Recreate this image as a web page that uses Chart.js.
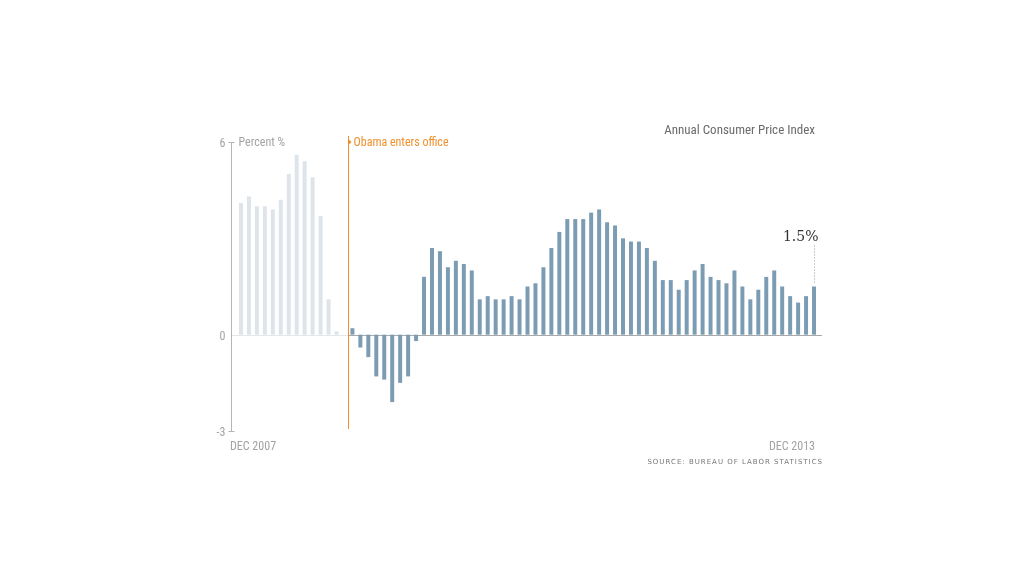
<!DOCTYPE html>
<html>
<head>
<meta charset="utf-8">
<script src="https://cdn.jsdelivr.net/npm/chart.js@4"></script>
<style>
  html, body { margin: 0; padding: 0; background: #fff; }
  canvas { display: block; }
</style>
</head>
<body>
<canvas id="cpi" width="1024" height="576"></canvas>
<script>
// ── Data ───────────────────────────────────────────────────────────────────

const months = [
  "Dec 2007",
  "Jan 2008", "Feb 2008", "Mar 2008", "Apr 2008", "May 2008", "Jun 2008",
  "Jul 2008", "Aug 2008", "Sep 2008", "Oct 2008", "Nov 2008", "Dec 2008",
  "Jan 2009", "Feb 2009", "Mar 2009", "Apr 2009", "May 2009", "Jun 2009",
  "Jul 2009", "Aug 2009", "Sep 2009", "Oct 2009", "Nov 2009", "Dec 2009",
  "Jan 2010", "Feb 2010", "Mar 2010", "Apr 2010", "May 2010", "Jun 2010",
  "Jul 2010", "Aug 2010", "Sep 2010", "Oct 2010", "Nov 2010", "Dec 2010",
  "Jan 2011", "Feb 2011", "Mar 2011", "Apr 2011", "May 2011", "Jun 2011",
  "Jul 2011", "Aug 2011", "Sep 2011", "Oct 2011", "Nov 2011", "Dec 2011",
  "Jan 2012", "Feb 2012", "Mar 2012", "Apr 2012", "May 2012", "Jun 2012",
  "Jul 2012", "Aug 2012", "Sep 2012", "Oct 2012", "Nov 2012", "Dec 2012",
  "Jan 2013", "Feb 2013", "Mar 2013", "Apr 2013", "May 2013", "Jun 2013",
  "Jul 2013", "Aug 2013", "Sep 2013", "Oct 2013", "Nov 2013", "Dec 2013",
];

const cpiValues = [
  4.1,
  4.3, 4.0, 4.0, 3.9, 4.2, 5.0, 5.6, 5.4, 4.9, 3.7, 1.1, 0.1,
  0.0, 0.2, -0.4, -0.7, -1.3, -1.4, -2.1, -1.5, -1.3, -0.2, 1.8, 2.7,
  2.6, 2.1, 2.3, 2.2, 2.0, 1.1, 1.2, 1.1, 1.1, 1.2, 1.1, 1.5,
  1.6, 2.1, 2.7, 3.2, 3.6, 3.6, 3.6, 3.8, 3.9, 3.5, 3.4, 3.0,
  2.9, 2.9, 2.7, 2.3, 1.7, 1.7, 1.4, 1.7, 2.0, 2.2, 1.8, 1.7,
  1.6, 2.0, 1.5, 1.1, 1.4, 1.8, 2.0, 1.5, 1.2, 1.0, 1.2, 1.5,
];

const yTicks = [6, 0, -3];
const obamaMonth = "Feb 2009";   // first full month after inauguration
const firstLabel = "DEC 2007";
const lastLabel = "DEC 2013";
const calloutText = "1.5%";

// ── Colours ────────────────────────────────────────────────────────────────

const BEFORE = "#dde4ea";
const AFTER  = "#7b9cb3";
const ORANGE = "#f0902c";
const GREY_TXT = "#a3a3a3";
const NARROW = "'Liberation Sans Narrow', 'Roboto Condensed', Roboto, sans-serif";

const obamaIdx = months.indexOf(obamaMonth);
const barColors = cpiValues.map((_, i) => (i < obamaIdx ? BEFORE : AFTER));

// ── Decorations drawn on top of Chart.js scales ───────────────────────────

const decorations = {
  id: "decorations",
  beforeDatasetsDraw(chart) {
    const { ctx, chartArea } = chart;
    const x = chart.scales.x, y = chart.scales.y;
    const axisX = chartArea.left - 6;
    const splitX = (x.getPixelForValue(obamaIdx - 1) + x.getPixelForValue(obamaIdx)) / 2;
    const zeroY = Math.round(y.getPixelForValue(0)) + 0.5;

    ctx.save();
    // zero line: pale before, grey after
    ctx.lineWidth = 1;
    ctx.strokeStyle = "#e6e6e6";
    ctx.beginPath(); ctx.moveTo(axisX, zeroY); ctx.lineTo(splitX, zeroY); ctx.stroke();
    ctx.strokeStyle = "#a8a8a8";
    ctx.beginPath(); ctx.moveTo(splitX, zeroY); ctx.lineTo(chartArea.right + 4, zeroY); ctx.stroke();

    // y axis line + ticks
    ctx.strokeStyle = "#b5b5b5";
    const ax = Math.round(axisX) + 0.5;
    ctx.beginPath();
    ctx.moveTo(ax, y.getPixelForValue(yTicks[0]));
    ctx.lineTo(ax, y.getPixelForValue(yTicks[yTicks.length - 1]));
    ctx.stroke();
    ctx.font = `12px ${NARROW}`;
    ctx.fillStyle = GREY_TXT;
    ctx.textAlign = "right";
    ctx.textBaseline = "middle";
    yTicks.forEach(t => {
      const ty = Math.round(y.getPixelForValue(t)) + 0.5;
      if (t !== 0) {
        ctx.beginPath(); ctx.moveTo(ax - 3, ty); ctx.lineTo(ax + 3, ty); ctx.stroke();
      }
      ctx.fillText(String(t), ax - 6, ty + 1);
    });
    ctx.textAlign = "left";
    ctx.fillText("Percent %", ax + 7, y.getPixelForValue(yTicks[0]) + 1);
    ctx.restore();
  },
  afterDatasetsDraw(chart) {
    const { ctx, chartArea } = chart;
    const x = chart.scales.x, y = chart.scales.y;
    const splitX = Math.round((x.getPixelForValue(obamaIdx - 1) + x.getPixelForValue(obamaIdx)) / 2) + 0.5;
    const topY = y.getPixelForValue(yTicks[0]);

    ctx.save();
    // Obama marker
    ctx.strokeStyle = ORANGE;
    ctx.lineWidth = 1;
    ctx.beginPath(); ctx.moveTo(splitX, topY - 6); ctx.lineTo(splitX, chartArea.bottom - 2); ctx.stroke();
    ctx.fillStyle = ORANGE;
    ctx.beginPath();
    ctx.moveTo(splitX, topY - 3); ctx.lineTo(splitX + 3, topY); ctx.lineTo(splitX, topY + 3);
    ctx.closePath(); ctx.fill();
    ctx.font = `12px ${NARROW}`;
    ctx.textBaseline = "middle";
    ctx.textAlign = "left";
    ctx.fillText("Obama enters office", splitX + 5, topY + 1);

    // title
    ctx.fillStyle = "#6b6b6b";
    ctx.font = `13px ${NARROW}`;
    ctx.textAlign = "right";
    ctx.textBaseline = "alphabetic";
    ctx.fillText("Annual Consumer Price Index", chartArea.right - 3, 134);

    // last value callout
    const last = cpiValues.length - 1;
    const lx = Math.round(x.getPixelForValue(last)) + 0.5;
    const ly = y.getPixelForValue(cpiValues[last]);
    ctx.strokeStyle = "#9a9a9a";
    ctx.setLineDash([1, 2]);
    ctx.beginPath(); ctx.moveTo(lx, ly - 4); ctx.lineTo(lx, ly - 42); ctx.stroke();
    ctx.setLineDash([]);
    ctx.fillStyle = "#333";
    ctx.font = "14px 'DejaVu Serif', 'Liberation Serif', serif";
    ctx.textAlign = "right";
    ctx.fillText(calloutText, lx + 4, ly - 46);

    // range labels
    ctx.fillStyle = GREY_TXT;
    ctx.font = `12px ${NARROW}`;
    ctx.textAlign = "left";
    ctx.fillText(firstLabel, chartArea.left - 7, 450);
    ctx.textAlign = "right";
    ctx.fillText(lastLabel, chartArea.right - 3, 450);

    // source
    ctx.fillStyle = "#777";
    ctx.font = "7px 'DejaVu Sans', sans-serif";
    ctx.letterSpacing = "1px";
    ctx.textAlign = "right";
    ctx.fillText("SOURCE: BUREAU OF LABOR STATISTICS", chartArea.right + 5, 464);
    ctx.restore();
  },
};

// ── Chart ──────────────────────────────────────────────────────────────────

new Chart(document.getElementById("cpi"), {
  type: "bar",
  data: {
    labels: months,
    datasets: [{
      data: cpiValues,
      backgroundColor: barColors,
      borderWidth: 0,
      barPercentage: 0.5,
      categoryPercentage: 1.0,
    }],
  },
  options: {
    responsive: false,
    animation: false,
    layout: { padding: { left: 237, right: 206, top: 142, bottom: 145 } },
    plugins: { legend: { display: false }, tooltip: { enabled: false } },
    scales: {
      x: { display: false, grid: { display: false } },
      y: { display: false, min: yTicks[yTicks.length - 1], max: yTicks[0] },
    },
  },
  plugins: [decorations],
});
</script>
</body>
</html>
